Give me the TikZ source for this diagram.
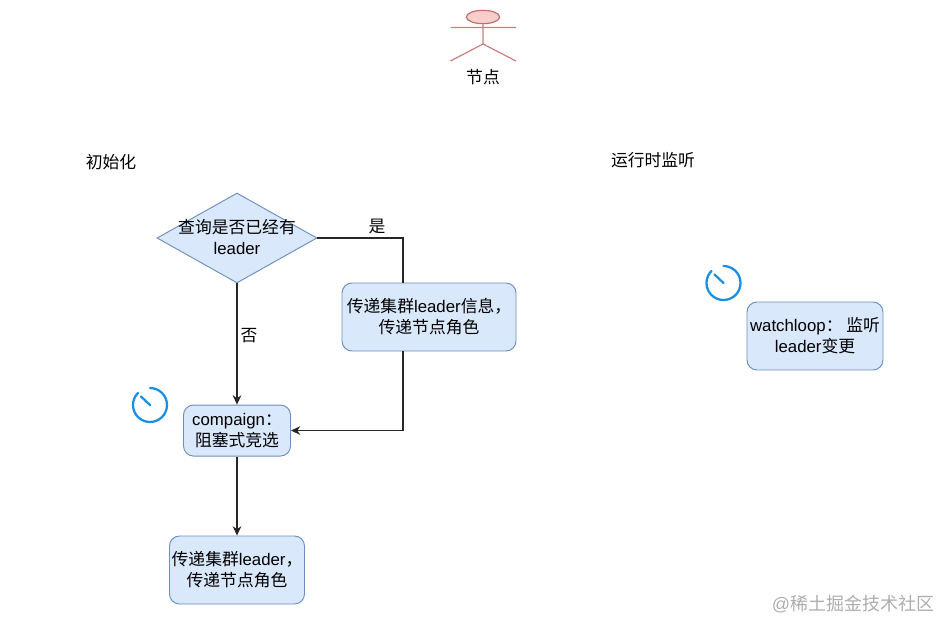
\documentclass[tikz,border=0pt]{standalone}
\usepackage{fontspec}
\setmainfont{Liberation Sans}
\newfontfamily\cjk{Noto Sans CJK SC}
\usetikzlibrary{positioning,arrows.meta,shapes.geometric}
\definecolor{boxfill}{HTML}{DAE8FC}
\definecolor{boxline}{HTML}{6C8EBF}
\definecolor{actorfill}{HTML}{F8CECC}
\definecolor{actorline}{HTML}{B85450}
\definecolor{clockblue}{HTML}{1A8FE3}
\tikzset{
  wire/.style={black!85,line width=.8pt},
  flow/.style={wire,-{Stealth[length=7pt,width=6.5pt]}},
  stepbox/.style={draw=boxline,fill=boxfill,rounded corners=7.5pt,align=center,inner sep=0pt,line width=.7pt},
  decision/.style={diamond,draw=boxline,fill=boxfill,inner sep=0pt,shape aspect=1.78,minimum width=120pt,minimum height=67.5pt,line width=.7pt},
  actorlimb/.style={draw=actorline!75!white,line width=.9pt},
  clockring/.style={draw=clockblue,line width=1.7pt,line cap=round},
}
\begin{document}
\begin{tikzpicture}[x=.75pt,y=-.75pt,on grid,font=\fontsize{12.6}{15.75}\selectfont]
  \useasboundingbox (0,0) rectangle (939,621);
  % actor
  \coordinate (neck) at (483,24);
  \coordinate (hip) at (483,44);
  \coordinate (armL) at (450.5,27.5);
  \coordinate (armR) at (516,27.5);
  \coordinate (legL) at (450.5,61);
  \coordinate (legR) at (516,61);
  \draw[actorlimb] (neck) -- (hip) (armL) -- (armR) (legL) -- (hip) -- (legR);
  \node[ellipse,draw=actorline!85!white,fill=actorfill,line width=.9pt,minimum width=25pt,minimum height=10pt,inner sep=0pt] (head) at (483,17) {};
  \node (actorname) at (483,77) {\cjk 节点};
  % titles
  \node (inittitle) at (111,162) {\cjk 初始化};
  \node (runtitle) at (653,160) {\cjk 运行时监听};
  % init flow
  \node[decision,label={[align=center,yshift=.75pt]center:{\cjk 查询是否已经有}\\leader}] (cond) at (237,238) {};
  \node[stepbox,minimum width=80.25pt,minimum height=38.25pt,below=144.4pt of cond] (compaign) {compaign{\cjk ：}\\{\cjk 阻塞式竞选}};
  \node[stepbox,minimum width=101.25pt,minimum height=51pt,below=104.6pt of compaign] (result) {{\cjk 传递集群}leader{\cjk ，}\\{\cjk 传递节点角色}};
  \node[stepbox,minimum width=130.5pt,minimum height=51pt] (info) at (429,317) {{\cjk 传递集群}leader{\cjk 信息，}\\{\cjk 传递节点角色}};
  \coordinate (infotop) at (403,283);
  \coordinate (infobot) at (403,351);
  \draw[wire] (cond.east) -| (infotop);
  \draw[flow] (cond.south) -- (compaign.north);
  \draw[flow] (infobot) |- (compaign.east);
  \draw[flow] (compaign.south) -- (result.north);
  \node (yeslabel) at (377,226) {\cjk 是};
  \node (nolabel) at (249,336) {\cjk 否};
  % runtime
  \node[stepbox,minimum width=102pt,minimum height=51pt] (watch) at (815,336) {watchloop{\cjk ：\ 监听}\\leader{\cjk 变更}};
  % clocks
  \foreach \cx/\cy in {150/405,723.5/283} {
    \draw[clockring] (\cx,\cy) ++(0,-17) arc[start angle=-90,end angle=225,x radius=17,y radius=17];
    \draw[clockring] (\cx,\cy) -- ++(-9,-8.5);
  }
  % watermark
  \node[text=black!32,font=\fontsize{13.5}{16}\selectfont] (mark) at (853,604) {@{\cjk 稀土掘金技术社区}};
\end{tikzpicture}
\end{document}
